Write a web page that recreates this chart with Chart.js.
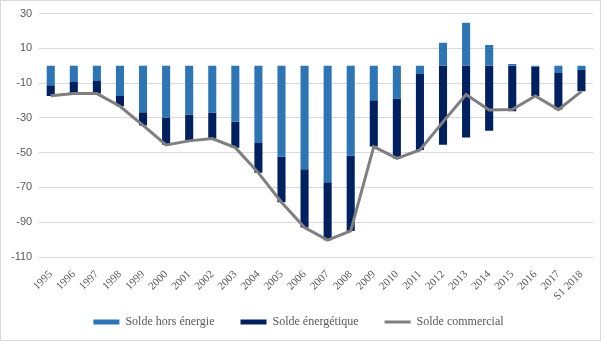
<!DOCTYPE html>
<html lang="fr">
<head>
<meta charset="utf-8">
<script src="https://cdn.jsdelivr.net/npm/chart.js@4/dist/chart.umd.min.js"></script>
<style>
  html, body { margin: 0; padding: 0; background: #fff; }
  #cadre { position: relative; width: 605px; height: 343px; }
  #bord { position: absolute; left: 0; top: 0; width: 599px; height: 339px; border: 1px solid #d9d9d9; pointer-events: none; }
</style>
</head>
<body>
<div id="cadre">
  <canvas id="soldeChart" width="605" height="343"></canvas>
  <div id="bord"></div>
</div>
<script>
const annees = [
  "1995", "1996", "1997", "1998", "1999", "2000", "2001", "2002",
  "2003", "2004", "2005", "2006", "2007", "2008", "2009", "2010",
  "2011", "2012", "2013", "2014", "2015", "2016", "2017", "S1 2018"
];

// milliards d'euros
const horsEnergie = [-11.2, -9.3, -8.7, -17.4, -26.7, -29.7, -28.1, -26.9, -32.2, -44.4, -52.3, -59.5,
  -67, -51.7, -19.9, -18.8, -4.8, 13.2, 24.8, 12, 1, -0.6, -4.2, -2.5];
const energetique = [-6.2, -6.7, -7.3, -5.9, -7.6, -15.8, -15.1, -15, -14.9, -17.2, -26.2, -33.5,
  -33.3, -43.3, -26.6, -34.5, -43.6, -45.5, -41.3, -37.4, -26.2, -16.8, -21, -12.2];
const commercial = [-17.2, -16, -16, -23.3, -34.3, -45.5, -43.2, -41.9, -47.1, -61.6, -78.5, -93,
  -100.3, -95, -46.5, -53.3, -48.4, -32.3, -16.5, -25.4, -25.2, -17.4, -25.2, -14.7];

const yMin = -110, yMax = 30, yPas = 20;

const gris = "#595959";

// remonte la légende pour qu'elle chevauche la marge sous les étiquettes
const remonteLegende = {
  id: "remonteLegende",
  afterLayout(chart) {
    chart.legend.top -= 10;
    chart.legend.bottom -= 10;
  }
};

const ctx = document.getElementById("soldeChart").getContext("2d");
new Chart(ctx, {
  data: {
    labels: annees,
    datasets: [
      {
        type: "bar",
        label: "Solde hors énergie",
        data: horsEnergie,
        backgroundColor: "#2E75B6",
        stack: "barres",
        order: 1,
        barPercentage: 0.35,
        categoryPercentage: 1
      },
      {
        type: "bar",
        label: "Solde énergétique",
        data: energetique,
        backgroundColor: "#002060",
        stack: "barres",
        order: 1,
        barPercentage: 0.35,
        categoryPercentage: 1
      },
      {
        type: "line",
        label: "Solde commercial",
        data: commercial,
        borderColor: "#7F7F7F",
        backgroundColor: "#7F7F7F",
        borderWidth: 3,
        pointRadius: 0,
        tension: 0,
        fill: false,
        stack: "ligne",
        order: 0
      }
    ]
  },
  plugins: [remonteLegende],
  options: {
    responsive: false,
    animation: false,
    layout: { padding: { left: 4, right: 12, top: 8, bottom: -5 } },
    plugins: {
      tooltip: { enabled: false },
      legend: {
        position: "bottom",
        labels: {
          color: gris,
          font: { family: "Liberation Serif", size: 12 },
          usePointStyle: true,
          pointStyleWidth: 26,
          boxHeight: 5,
          padding: 26,
          sort: (a, b) => a.datasetIndex - b.datasetIndex,
          generateLabels(chart) {
            const items = Chart.defaults.plugins.legend.labels.generateLabels(chart);
            items.forEach(it => {
              if (it.datasetIndex === 2) {
                it.pointStyle = "line";
                it.strokeStyle = "#7F7F7F";
                it.lineWidth = 3;
              } else {
                it.pointStyle = "rect";
                it.lineWidth = 0;
              }
            });
            return items;
          }
        }
      }
    },
    scales: {
      x: {
        stacked: true,
        grid: { display: false },
        border: { display: false },
        afterFit(scale) { scale.height = 43; },
        ticks: {
          color: gris,
          font: { family: "Liberation Serif", size: 11 },
          minRotation: 45,
          maxRotation: 45,
          autoSkip: false,
          padding: 3
        }
      },
      y: {
        stacked: true,
        min: yMin,
        max: yMax,
        grid: { color: "#d9d9d9", drawTicks: false },
        border: { display: false },
        ticks: {
          stepSize: yPas,
          color: gris,
          font: { family: "Liberation Sans", size: 11 },
          padding: 7
        }
      }
    }
  }
});
</script>
</body>
</html>
